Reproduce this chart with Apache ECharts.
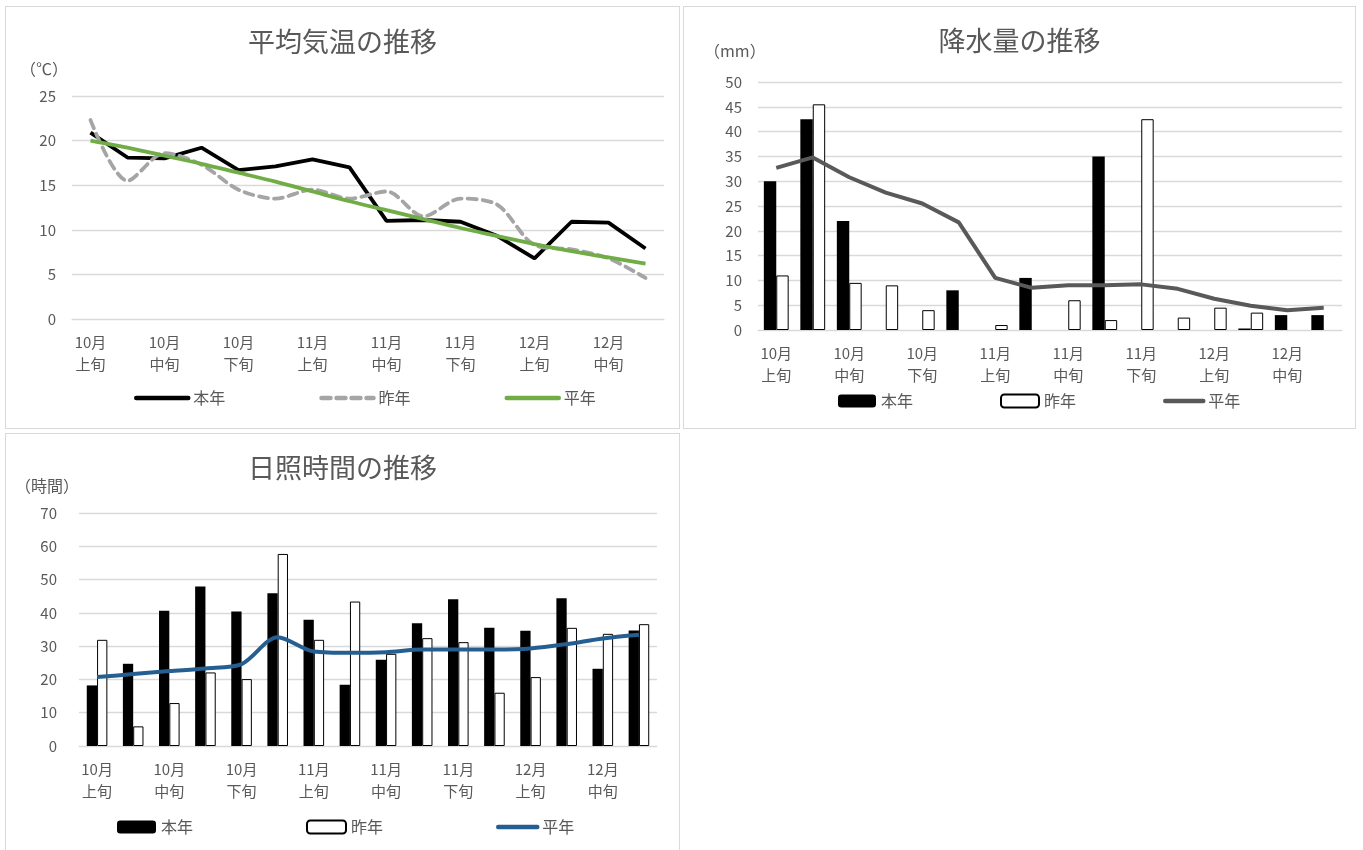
<!DOCTYPE html>
<html>
<head>
<meta charset="utf-8">
<script src="https://cdn.jsdelivr.net/npm/echarts@6/dist/echarts.min.js"></script>
<style>
  body { margin: 0; background: #fff; }
  .panel { position: absolute; border: 1px solid #d9d9d9; box-sizing: border-box; background: #fff; }
  .panel div.c { width: 100%; height: 100%; }
</style>
</head>
<body>
<div class="panel" style="left:5px;top:6px;width:675px;height:423px;"><div class="c" id="tempChart"></div></div>
<div class="panel" style="left:683px;top:6px;width:673px;height:423px;"><div class="c" id="rainChart"></div></div>
<div class="panel" style="left:5px;top:433px;width:675px;height:425px;"><div class="c" id="sunChart"></div></div>
<script>
// 半旬ごとのデータ（16点）
const categories = ['10月1半旬','10月2半旬','10月3半旬','10月4半旬','10月5半旬','10月6半旬',
  '11月1半旬','11月2半旬','11月3半旬','11月4半旬','11月5半旬','11月6半旬',
  '12月1半旬','12月2半旬','12月3半旬','12月4半旬'];
// 軸ラベルは2点おき
const tickLabels = ['10月\n上旬','10月\n中旬','10月\n下旬','11月\n上旬','11月\n中旬','11月\n下旬','12月\n上旬','12月\n中旬'];

// 平均気温
const tempThisYear = [20.9, 18.1, 18.0, 19.2, 16.7, 17.1, 17.9, 17.0, 11.0, 11.1, 10.9, 9.3, 6.8, 10.9, 10.8, 7.9];
const tempLastYear = [22.3, 15.5, 18.6, 17.3, 14.5, 13.5, 14.5, 13.5, 14.3, 11.5, 13.5, 12.8, 8.3, 7.8, 6.8, 4.6];
const tempNormal   = [20.0, 19.2, 18.3, 17.4, 16.4, 15.4, 14.3, 13.2, 12.2, 11.2, 10.2, 9.3, 8.4, 7.6, 6.9, 6.2];

// 降水量
const rainThisYear = [30.0, 42.5, 22.0, 0, 0, 8.0, 0, 10.5, 0, 35.0, 0, 0, 0, 0.3, 3.0, 3.0];
const rainLastYear = [11.0, 45.5, 9.5, 9.0, 4.0, 0, 1.0, 0, 6.0, 2.0, 42.5, 2.5, 4.5, 3.5, 0, 0];
const rainNormal   = [32.7, 34.8, 30.8, 27.7, 25.5, 21.7, 10.5, 8.5, 9.0, 9.0, 9.2, 8.3, 6.3, 4.9, 4.0, 4.5];

// 日照時間
const sunThisYear = [18.2, 24.7, 40.6, 47.9, 40.4, 45.9, 37.9, 18.4, 25.9, 36.9, 44.1, 35.5, 34.6, 44.4, 23.2, 34.7];
const sunLastYear = [31.9, 5.9, 12.9, 22.1, 20.1, 57.7, 31.9, 43.4, 27.7, 32.4, 31.2, 16.0, 20.7, 35.5, 33.7, 36.6];
const sunNormal   = [20.7, 21.6, 22.5, 23.3, 24.6, 32.7, 28.4, 28.0, 28.2, 29.0, 29.0, 29.0, 29.3, 30.6, 32.3, 33.4];

const FONT = '"Noto Sans CJK JP", "Noto Sans", sans-serif';
const GRAY = '#595959';

// 0の棒は描かない（枠線だけ残るのを防ぐ）
function noZero(arr) {
  return arr.map(function (v) { return v === 0 ? null : v; });
}

function baseOption(cfg) {
  return {
    animation: false,
    textStyle: { fontFamily: FONT },
    title: {
      text: cfg.title, left: 'center', top: cfg.titleTop,
      textStyle: { fontFamily: FONT, fontSize: 27, fontWeight: 'normal', color: GRAY }
    },
    graphic: [{
      type: 'text', left: cfg.unitLeft, top: cfg.unitTop,
      style: { text: cfg.unit, font: '16px ' + FONT, fill: GRAY }
    }],
    legend: {
      left: cfg.legendLeft, top: cfg.legendTop,
      itemGap: cfg.itemGap, itemWidth: cfg.itemWidth, itemHeight: cfg.itemHeight,
      lineStyle: { width: 4.5, cap: 'round' },
      textStyle: { fontFamily: FONT, fontSize: 16, color: GRAY },
      data: cfg.legendData
    },
    grid: cfg.grid,
    xAxis: {
      type: 'category', data: categories, boundaryGap: true,
      axisLine: { lineStyle: { color: '#d9d9d9', width: 1 } },
      axisTick: { show: false },
      axisLabel: {
        interval: 1, margin: cfg.xMargin, color: GRAY, fontSize: 15, lineHeight: 22,
        formatter: function (v, i) { return tickLabels[i / 2] || ''; }
      }
    },
    yAxis: {
      type: 'value', min: 0, max: cfg.yMax, interval: cfg.yStep,
      axisLine: { show: false }, axisTick: { show: false },
      axisLabel: { color: GRAY, fontSize: 15, margin: cfg.yMargin },
      splitLine: { lineStyle: { color: '#d9d9d9', width: 1.3 } }
    }
  };
}

const hideSym = { opacity: 0 };

// 平均気温の推移
const tempChart = echarts.init(document.getElementById('tempChart'));
const tempOpt = baseOption({
  title: '平均気温の推移', titleTop: 16, unit: '（℃）', unitLeft: 14, unitTop: 54,
  legendLeft: 123, legendTop: 378, itemGap: 94, itemWidth: 52, itemHeight: 12,
  legendData: [{ name: '本年', itemStyle: hideSym }, { name: '昨年', itemStyle: hideSym }, { name: '平年', itemStyle: hideSym }],
  grid: { left: 66, right: 15, top: 89, height: 223 },
  yMax: 25, yStep: 5, xMargin: 12, yMargin: 16
});
tempOpt.series = [
  { name: '本年', type: 'line', data: tempThisYear, symbol: 'none',
    itemStyle: { color: '#000' }, lineStyle: { color: '#000', width: 3.8 } },
  { name: '昨年', type: 'line', data: tempLastYear, symbol: 'none', smooth: 0.3,
    itemStyle: { color: '#a5a5a5' }, lineStyle: { color: '#a5a5a5', width: 3.8, type: [9, 6], cap: 'round' } },
  { name: '平年', type: 'line', data: tempNormal, symbol: 'none', smooth: 0.3,
    itemStyle: { color: '#70ad47' }, lineStyle: { color: '#70ad47', width: 3.8 } }
];
tempChart.setOption(tempOpt);

// 降水量の推移
const rainChart = echarts.init(document.getElementById('rainChart'));
const rainOpt = baseOption({
  title: '降水量の推移', titleTop: 15, unit: '（mm）', unitLeft: 20, unitTop: 36,
  legendLeft: 149, legendTop: 381, itemGap: 87, itemWidth: 38, itemHeight: 13,
  legendData: ['本年', '昨年', { name: '平年', itemStyle: hideSym }],
  grid: { left: 74, right: 13, top: 75, height: 248 },
  yMax: 50, yStep: 5, xMargin: 12, yMargin: 16
});
rainOpt.series = [
  { name: '本年', type: 'bar', data: noZero(rainThisYear), barGap: 0, barCategoryGap: '32%',
    itemStyle: { color: '#000' } },
  { name: '昨年', type: 'bar', data: noZero(rainLastYear), barGap: 0, barCategoryGap: '32%',
    itemStyle: { color: '#fff', borderColor: '#000', borderWidth: 1 } },
  { name: '平年', type: 'line', data: rainNormal, symbol: 'none',
    itemStyle: { color: '#595959' }, lineStyle: { color: '#595959', width: 4 } }
];
rainChart.setOption(rainOpt);

// 日照時間の推移
const sunChart = echarts.init(document.getElementById('sunChart'));
const sunOpt = baseOption({
  title: '日照時間の推移', titleTop: 15, unit: '（時間）', unitLeft: 9, unitTop: 44,
  legendLeft: 106, legendTop: 380, itemGap: 113, itemWidth: 39, itemHeight: 13,
  legendData: ['本年', '昨年', { name: '平年', itemStyle: hideSym }],
  grid: { left: 73, right: 22, top: 79, height: 233 },
  yMax: 70, yStep: 10, xMargin: 12, yMargin: 22
});
sunOpt.series = [
  { name: '本年', type: 'bar', data: sunThisYear, barGap: 0, barCategoryGap: '43%',
    itemStyle: { color: '#000' } },
  { name: '昨年', type: 'bar', data: sunLastYear, barGap: 0, barCategoryGap: '43%',
    itemStyle: { color: '#fff', borderColor: '#000', borderWidth: 1 } },
  { name: '平年', type: 'line', data: sunNormal, symbol: 'none', smooth: 0.3,
    itemStyle: { color: '#255e91' }, lineStyle: { color: '#255e91', width: 4 } }
];
sunChart.setOption(sunOpt);
</script>
</body>
</html>
